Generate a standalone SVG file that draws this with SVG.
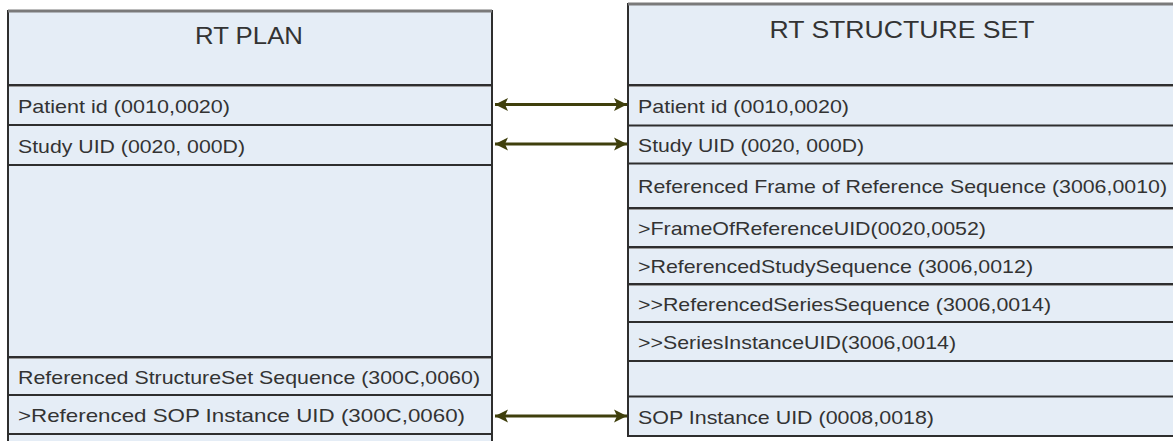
<svg xmlns="http://www.w3.org/2000/svg" width="1173" height="441" viewBox="0 0 1173 441">
<style>
.box{fill:#e5edf6;stroke:#2e2e2e;stroke-width:2}
.topb{stroke:#7a7a7a;stroke-width:3}
.sep{stroke:#2e2e2e;stroke-width:2}
.sep2{stroke:#9a9a9a;stroke-width:1}
.t{font-family:"Liberation Sans",Arial,sans-serif;font-size:19px;fill:#333}
.h{font-family:"Liberation Sans",Arial,sans-serif;font-size:24px;fill:#333;text-anchor:middle}
.conn{stroke:#3f3f0c;stroke-width:3;fill:none}
</style>
<defs>
<marker id="ah" markerUnits="userSpaceOnUse" markerWidth="14" markerHeight="14" refX="13" refY="6.5" orient="auto-start-reverse" viewBox="0 0 14 13">
<path d="M0,0 L13,6.5 L0,13 L3,6.5 z" fill="#3f3f0c"/>
</marker>
</defs>
<rect width="1173" height="441" fill="#fff"/>
<g id="rt-plan">
<rect class="box" x="8" y="11" width="484" height="440"/>
<line class="topb" x1="8" y1="11" x2="492" y2="11"/>
<text class="h" x="249" y="44" textLength="108" lengthAdjust="spacingAndGlyphs">RT PLAN</text>
<g id="plan-patient"><line class="sep" x1="8" y1="85" x2="492" y2="85"/><line class="sep2" x1="9" y1="86.5" x2="491" y2="86.5"/>
<text class="t" x="18" y="112.5" textLength="212" lengthAdjust="spacingAndGlyphs">Patient id (0010,0020)</text></g>
<g id="plan-study"><line class="sep" x1="8" y1="125" x2="492" y2="125"/>
<text class="t" x="18" y="152.5" textLength="227" lengthAdjust="spacingAndGlyphs">Study UID (0020, 000D)</text></g>
<g id="plan-empty"><line class="sep" x1="8" y1="165" x2="492" y2="165"/></g>
<g id="plan-refss"><line class="sep" x1="8" y1="357" x2="492" y2="357"/><line class="sep2" x1="9" y1="358.5" x2="491" y2="358.5"/>
<text class="t" x="18" y="383.5" textLength="462" lengthAdjust="spacingAndGlyphs">Referenced StructureSet Sequence (300C,0060)</text></g>
<g id="plan-refsop"><line class="sep" x1="8" y1="395" x2="492" y2="395"/>
<text class="t" x="18" y="422" textLength="447" lengthAdjust="spacingAndGlyphs">&gt;Referenced SOP Instance UID (300C,0060)</text></g>
<g id="plan-next"><line class="sep" x1="8" y1="434" x2="492" y2="434"/></g>
</g>
<g id="rt-structure-set">
<rect class="box" x="628" y="4" width="560" height="432"/>
<line class="topb" x1="628" y1="4" x2="1180" y2="4"/>
<text class="h" x="902" y="38" textLength="265" lengthAdjust="spacingAndGlyphs">RT STRUCTURE SET</text>
<g id="ss-patient"><line class="sep" x1="628" y1="85" x2="1180" y2="85"/><line class="sep2" x1="629" y1="86.5" x2="1180" y2="86.5"/>
<text class="t" x="638" y="113" textLength="211" lengthAdjust="spacingAndGlyphs">Patient id (0010,0020)</text></g>
<g id="ss-study"><line class="sep" x1="628" y1="125.5" x2="1180" y2="125.5"/>
<text class="t" x="638" y="152" textLength="226" lengthAdjust="spacingAndGlyphs">Study UID (0020, 000D)</text></g>
<g id="ss-refframe"><line class="sep" x1="628" y1="163.5" x2="1180" y2="163.5"/>
<text class="t" x="638" y="193" textLength="529" lengthAdjust="spacingAndGlyphs">Referenced Frame of Reference Sequence (3006,0010)</text></g>
<g id="ss-foruid"><line class="sep" x1="628" y1="208" x2="1180" y2="208"/><line class="sep2" x1="629" y1="209.5" x2="1180" y2="209.5"/>
<text class="t" x="638" y="235" textLength="348" lengthAdjust="spacingAndGlyphs">&gt;FrameOfReferenceUID(0020,0052)</text></g>
<g id="ss-refstudy"><line class="sep" x1="628" y1="247" x2="1180" y2="247"/><line class="sep2" x1="629" y1="248.5" x2="1180" y2="248.5"/>
<text class="t" x="638" y="273" textLength="395" lengthAdjust="spacingAndGlyphs">&gt;ReferencedStudySequence (3006,0012)</text></g>
<g id="ss-refseries"><line class="sep" x1="628" y1="284" x2="1180" y2="284"/><line class="sep2" x1="629" y1="285.5" x2="1180" y2="285.5"/>
<text class="t" x="638" y="310.5" textLength="413" lengthAdjust="spacingAndGlyphs">&gt;&gt;ReferencedSeriesSequence (3006,0014)</text></g>
<g id="ss-seriesuid"><line class="sep" x1="628" y1="322" x2="1180" y2="322"/>
<text class="t" x="638" y="349" textLength="318" lengthAdjust="spacingAndGlyphs">&gt;&gt;SeriesInstanceUID(3006,0014)</text></g>
<g id="ss-empty"><line class="sep" x1="628" y1="361" x2="1180" y2="361"/></g>
<g id="ss-sop"><line class="sep" x1="628" y1="396.5" x2="1180" y2="396.5"/>
<text class="t" x="638" y="424" textLength="296" lengthAdjust="spacingAndGlyphs">SOP Instance UID (0008,0018)</text></g>
</g>
<g id="connectors">
<line class="conn" x1="495" y1="104.5" x2="627" y2="104.5" marker-start="url(#ah)" marker-end="url(#ah)"/>
<line class="conn" x1="495" y1="144" x2="627" y2="144" marker-start="url(#ah)" marker-end="url(#ah)"/>
<line class="conn" x1="495" y1="416" x2="627" y2="416" marker-start="url(#ah)" marker-end="url(#ah)"/>
</g>
</svg>
